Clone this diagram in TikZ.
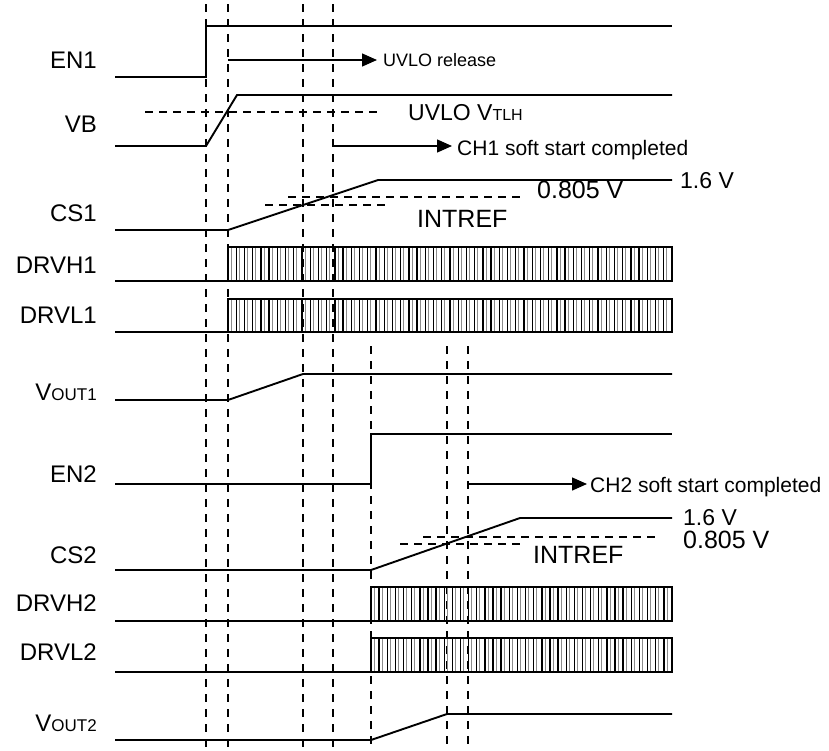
\documentclass[tikz,border=0pt]{standalone}
\usepackage{fontspec}
\setmainfont{Liberation Sans}
\usetikzlibrary{arrows.meta,positioning}
\newcommand{\fsz}[1]{\fontsize{#1}{#1}\selectfont}
\tikzset{
  sig/.style={line width=1.9pt,line join=miter},
  grid/.style={line width=1.6pt,dash pattern=on 8pt off 7pt},
  thr/.style={line width=1.6pt,dash pattern=on 8pt off 6pt},
  pulse/.style={line width=1.4pt},
  pulseg/.style={line width=1pt,black!45},
  lbl/.style={anchor=base east,inner sep=0pt,font=\fsz{24}},
  note/.style={anchor=base west,inner sep=0pt},
  arw/.style={-{Triangle[length=15pt,width=13pt]},line width=1.4pt},
}
% hatched drive block: start x, top y, bottom y, number of steps
\newcommand{\pwmblock}[4]{%
  \pgfmathsetmacro\dx{(672-#1)/(#4+1)}
  \foreach \i in {0,...,#4}{%
    \pgfmathsetmacro\xs{#1+\i*\dx}
    \draw[pulse] (\xs,#2) -- (\xs,#3);
    \draw[pulseg] (\xs+3.2,#2) -- (\xs+3.2,#3);
  }
  \draw[sig] (#1,#2) rectangle (672,#3);
}

\begin{document}
\begin{tikzpicture}[x=1pt,y=-1pt]
  \useasboundingbox (0,0) rectangle (829,750);
  % time markers
  \foreach \x in {206,228,303,333}
    \draw[grid] (\x,4) -- (\x,750);
  \foreach \x in {371,447,468}
    \draw[grid] (\x,346) -- (\x,750);

  % signal names
  \node[lbl] (en1)   at (97,68)  {EN1};
  \node[lbl] (vb)    at (97,132) {VB};
  \node[lbl] (cs1)   at (97,221) {CS1};
  \node[lbl] (drvh1) at (97,273) {DRVH1};
  \node[lbl] (drvl1) at (97,323) {DRVL1};
  \node[lbl] (vout1) at (97,400) {V\fsz{17}OUT1};
  \node[lbl] (en2)   at (97,482) {EN2};
  \node[lbl] (cs2)   at (97,563) {CS2};
  \node[lbl] (drvh2) at (97,611) {DRVH2};
  \node[lbl] (drvl2) at (97,660) {DRVL2};
  \node[lbl] (vout2) at (97,731) {V\fsz{17}OUT2};

  % channel 1
  \draw[sig] (115,77) -- (206,77) -- (206,26) -- (672,26);
  \draw[sig] (115,146) -- (206,146) -- (237,95) -- (672,95);
  \draw[thr] (145,112) -- (380,112);
  \node[note,font=\fsz{23}] (tlh) at (408,120) {UVLO V\fsz{16}TLH};
  \draw[sig] (115,230) -- (228,230) -- (378,180) -- (672,180);
  \draw[thr] (288,197) -- (522,197);
  \draw[thr] (265,205) -- (388,205);
  \node[note,font=\fsz{23}] (hi1) at (680,188) {1.6 V};
  \node[note,font=\fsz{25}] (ref1) at (537,198) {0.805 V};
  \node[note,font=\fsz{25}] (int1) at (417,227) {INTREF};
  \draw[sig] (115,281) -- (228,281);
  \pwmblock{228}{247}{281}{53}
  \draw[sig] (115,332) -- (228,332);
  \pwmblock{228}{299}{332}{53}
  \draw[sig] (115,400) -- (228,400) -- (303,374) -- (672,374);

  % channel 2
  \draw[sig] (115,484) -- (371,484) -- (371,434) -- (672,434);
  \draw[sig] (115,570) -- (371,570) -- (520,518) -- (672,518);
  \draw[thr] (423,537) -- (657,537);
  \draw[thr] (400,544) -- (520,544);
  \node[note,font=\fsz{23}] (hi2) at (683,525) {1.6 V};
  \node[note,font=\fsz{25}] (ref2) at (683,548) {0.805 V};
  \node[note,font=\fsz{25}] (int2) at (533,563) {INTREF};
  \draw[sig] (115,621) -- (371,621);
  \pwmblock{371}{587}{621}{36}
  \draw[sig] (115,672) -- (371,672);
  \pwmblock{371}{638}{672}{36}
  \draw[sig] (115,740) -- (371,740) -- (447,714) -- (672,714);

  % events
  \node[note,font=\fsz{18}] (uvlo) at (383,66.5) {UVLO release};
  \node[note,font=\fsz{21}] (ch1) at (457,155) {CH1 soft start completed};
  \node[note,font=\fsz{21}] (ch2) at (590,492) {CH2 soft start completed};
  \coordinate (t1) at (228,60);
  \coordinate (t2) at (333,146);
  \coordinate (t3) at (468,484);
  \draw[arw,shorten >=6pt] (t1) -- (t1 -| uvlo.west);
  \draw[arw,shorten >=5pt] (t2) -- (t2 -| ch1.west);
  \draw[arw,shorten >=3pt] (t3) -- (t3 -| ch2.west);
\end{tikzpicture}
\end{document}
